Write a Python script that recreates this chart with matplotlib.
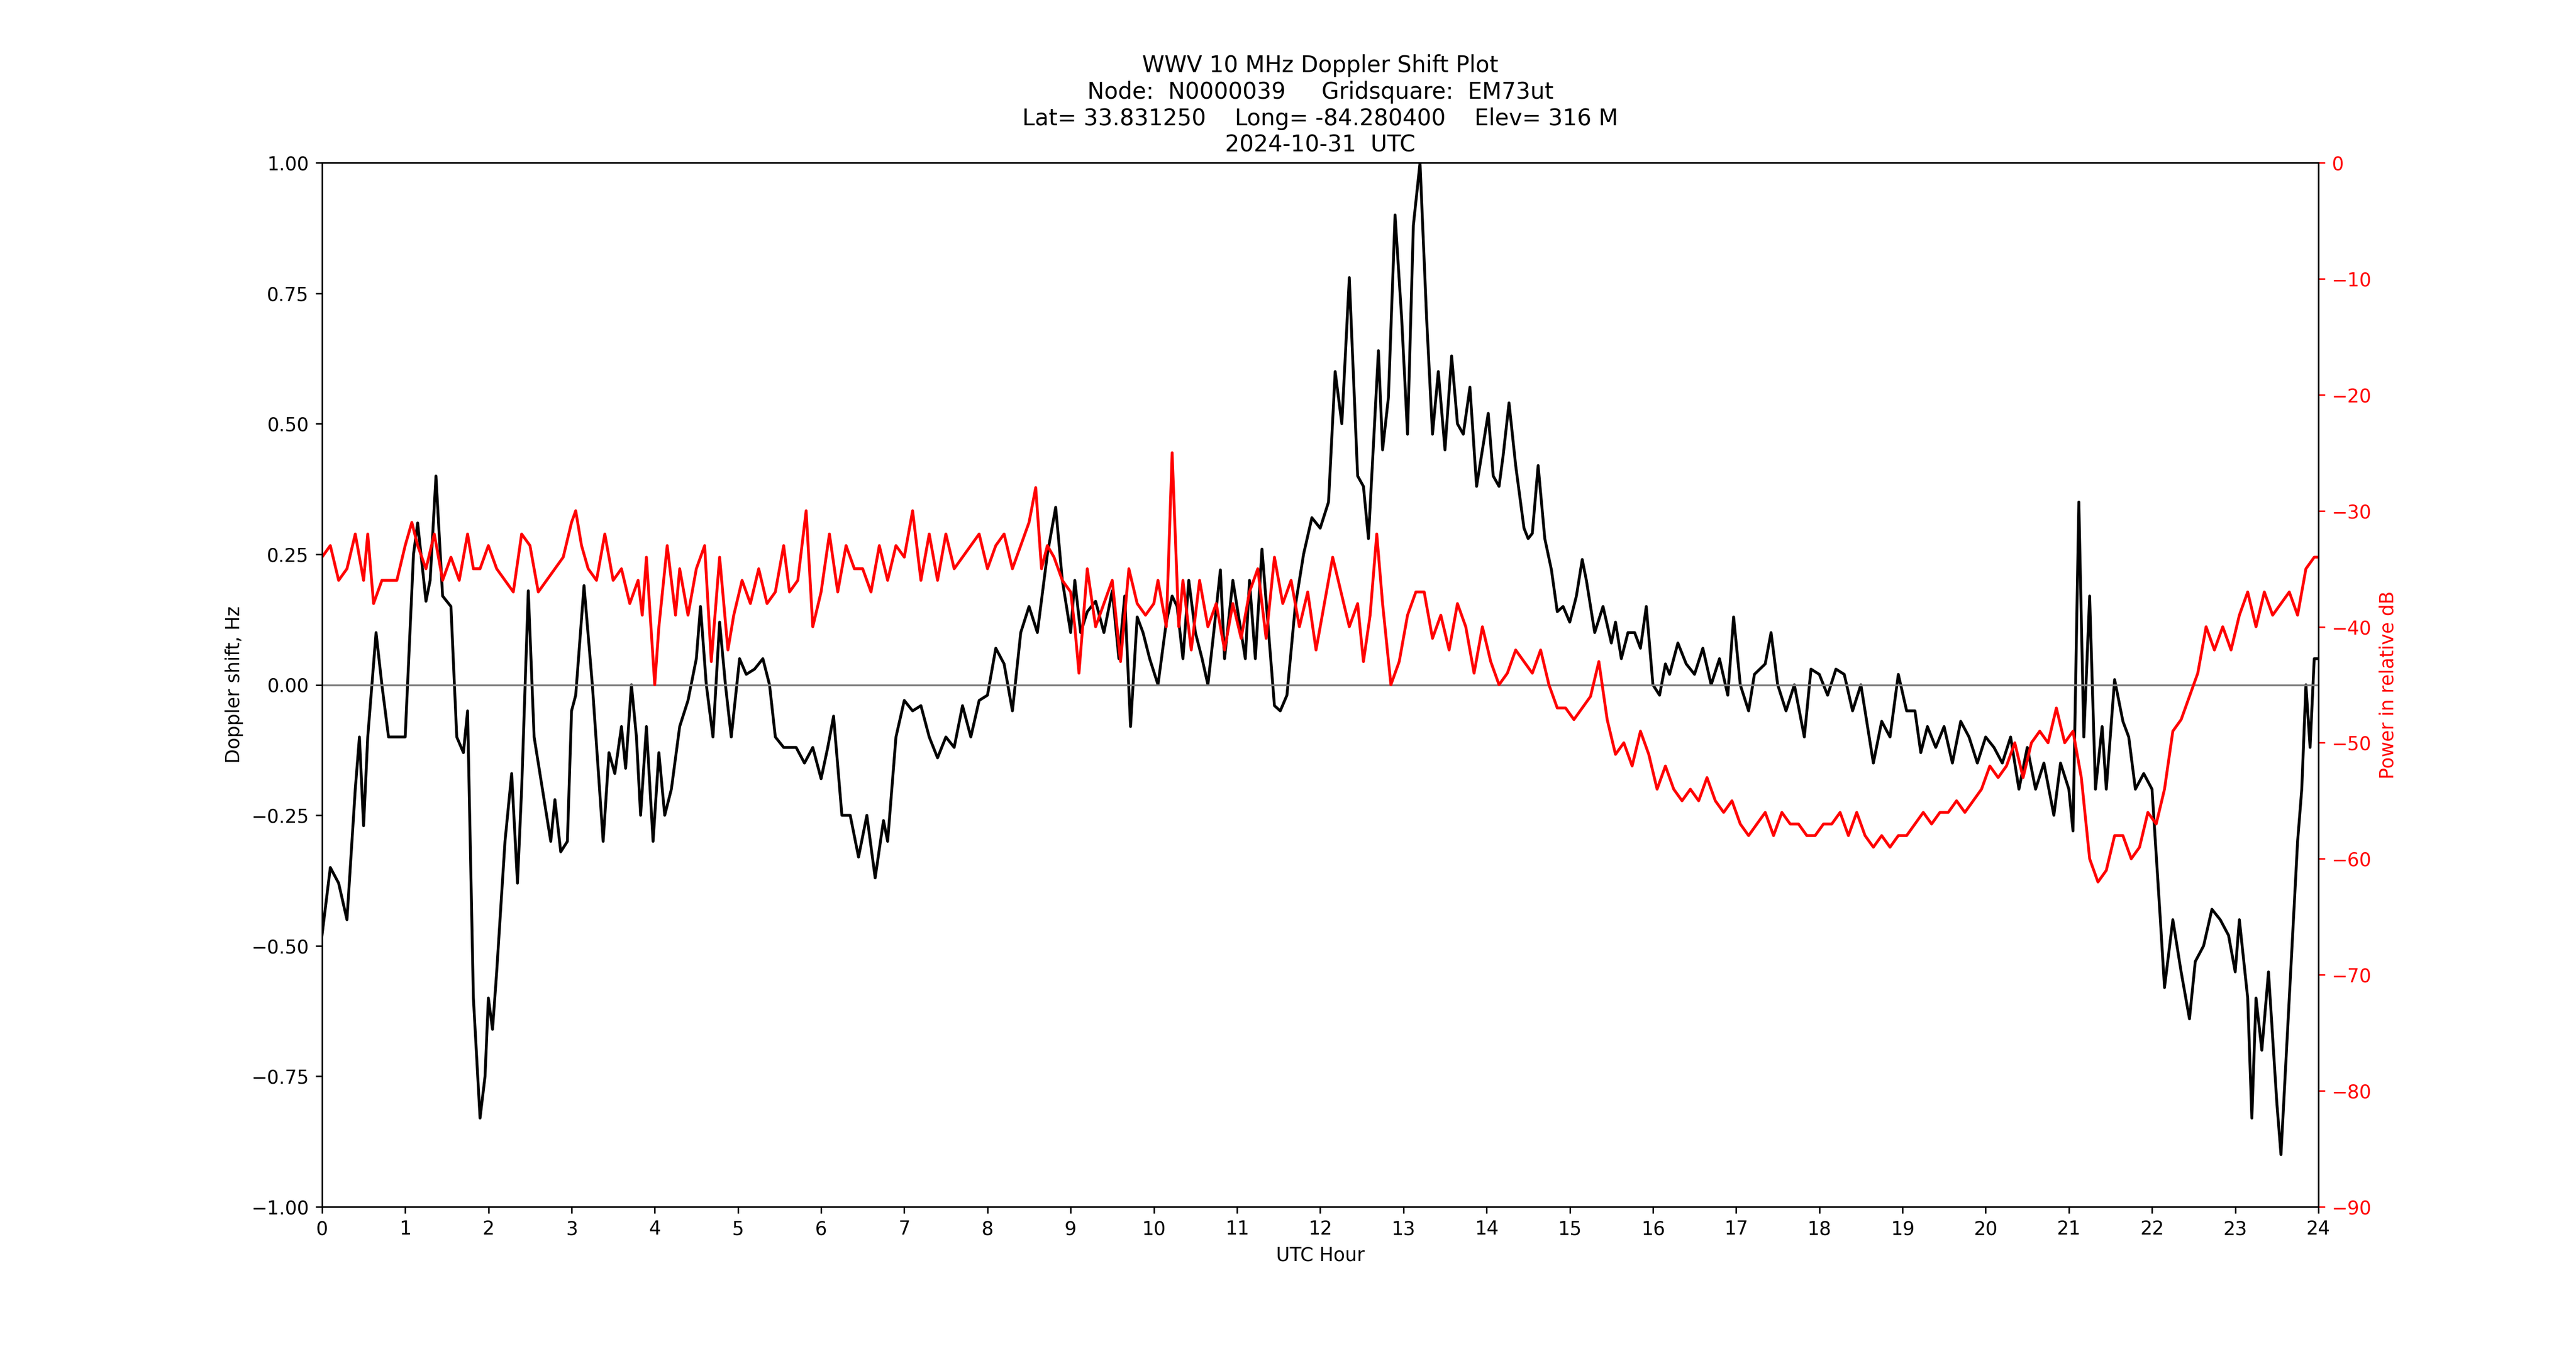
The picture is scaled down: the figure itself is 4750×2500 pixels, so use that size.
import matplotlib
matplotlib.use("Agg")
import matplotlib.pyplot as plt

dop_t = [0.0,0.1,0.2,0.3,0.4,0.45,0.5,0.55,0.65,0.72,0.8,0.9,1.0,1.1,1.15,1.25,1.3,1.37,1.45,1.55,1.62,1.7,1.75,1.82,1.9,1.96,2.0,2.05,2.1,2.2,2.28,2.35,2.4,2.48,2.55,2.65,2.75,2.8,2.87,2.95,3.0,3.05,3.15,3.25,3.38,3.45,3.52,3.6,3.65,3.72,3.78,3.83,3.9,3.98,4.05,4.12,4.2,4.3,4.4,4.5,4.55,4.62,4.7,4.78,4.85,4.92,5.02,5.1,5.2,5.3,5.38,5.45,5.55,5.7,5.8,5.9,6.0,6.08,6.15,6.25,6.35,6.45,6.55,6.65,6.75,6.8,6.9,7.0,7.1,7.2,7.3,7.4,7.5,7.6,7.7,7.8,7.9,8.0,8.1,8.2,8.3,8.4,8.5,8.6,8.72,8.82,8.9,9.0,9.05,9.12,9.2,9.3,9.4,9.5,9.58,9.65,9.72,9.8,9.87,9.95,10.05,10.15,10.22,10.28,10.35,10.42,10.5,10.58,10.65,10.72,10.8,10.85,10.95,11.0,11.1,11.15,11.22,11.3,11.38,11.45,11.52,11.6,11.7,11.8,11.9,12.0,12.1,12.18,12.26,12.35,12.45,12.52,12.58,12.7,12.75,12.82,12.9,12.98,13.05,13.12,13.2,13.28,13.35,13.42,13.5,13.58,13.65,13.72,13.8,13.88,13.95,14.02,14.08,14.15,14.2,14.27,14.35,14.45,14.5,14.55,14.62,14.7,14.78,14.85,14.92,15.0,15.08,15.15,15.2,15.3,15.4,15.5,15.55,15.62,15.7,15.78,15.85,15.92,16.0,16.08,16.15,16.2,16.3,16.4,16.5,16.6,16.7,16.8,16.9,16.97,17.05,17.15,17.22,17.35,17.42,17.5,17.6,17.7,17.82,17.9,18.0,18.1,18.2,18.3,18.4,18.5,18.6,18.65,18.75,18.85,18.95,19.05,19.15,19.22,19.3,19.4,19.5,19.6,19.7,19.8,19.9,20.0,20.1,20.2,20.3,20.4,20.5,20.6,20.7,20.82,20.9,21.0,21.05,21.12,21.18,21.25,21.32,21.4,21.45,21.55,21.65,21.72,21.8,21.9,22.0,22.1,22.15,22.25,22.35,22.45,22.52,22.62,22.72,22.82,22.92,23.0,23.05,23.15,23.2,23.25,23.32,23.4,23.5,23.55,23.65,23.75,23.8,23.85,23.9,23.95,24.0]
dop_v = [-0.48,-0.35,-0.38,-0.45,-0.2,-0.1,-0.27,-0.1,0.1,0.0,-0.1,-0.1,-0.1,0.25,0.31,0.16,0.2,0.40,0.17,0.15,-0.1,-0.13,-0.05,-0.6,-0.83,-0.75,-0.6,-0.66,-0.55,-0.3,-0.17,-0.38,-0.2,0.18,-0.1,-0.2,-0.3,-0.22,-0.32,-0.3,-0.05,-0.02,0.19,0.0,-0.3,-0.13,-0.17,-0.08,-0.16,0.0,-0.1,-0.25,-0.08,-0.3,-0.13,-0.25,-0.2,-0.08,-0.03,0.05,0.15,0.0,-0.1,0.12,0.0,-0.1,0.05,0.02,0.03,0.05,0.0,-0.1,-0.12,-0.12,-0.15,-0.12,-0.18,-0.12,-0.06,-0.25,-0.25,-0.33,-0.25,-0.37,-0.26,-0.3,-0.1,-0.03,-0.05,-0.04,-0.1,-0.14,-0.1,-0.12,-0.04,-0.1,-0.03,-0.02,0.07,0.04,-0.05,0.1,0.15,0.1,0.25,0.34,0.2,0.1,0.2,0.1,0.14,0.16,0.1,0.18,0.05,0.17,-0.08,0.13,0.1,0.05,0.0,0.12,0.17,0.15,0.05,0.2,0.1,0.05,0.0,0.1,0.22,0.05,0.2,0.15,0.05,0.2,0.05,0.26,0.1,-0.04,-0.05,-0.02,0.15,0.25,0.32,0.3,0.35,0.6,0.5,0.78,0.4,0.38,0.28,0.64,0.45,0.55,0.9,0.7,0.48,0.88,1.0,0.7,0.48,0.6,0.45,0.63,0.5,0.48,0.57,0.38,0.45,0.52,0.4,0.38,0.44,0.54,0.42,0.3,0.28,0.29,0.42,0.28,0.22,0.14,0.15,0.12,0.17,0.24,0.2,0.1,0.15,0.08,0.12,0.05,0.1,0.1,0.07,0.15,0.0,-0.02,0.04,0.02,0.08,0.04,0.02,0.07,0.0,0.05,-0.02,0.13,0.0,-0.05,0.02,0.04,0.1,0.0,-0.05,0.0,-0.1,0.03,0.02,-0.02,0.03,0.02,-0.05,0.0,-0.1,-0.15,-0.07,-0.1,0.02,-0.05,-0.05,-0.13,-0.08,-0.12,-0.08,-0.15,-0.07,-0.1,-0.15,-0.1,-0.12,-0.15,-0.1,-0.2,-0.12,-0.2,-0.15,-0.25,-0.15,-0.2,-0.28,0.35,-0.1,0.17,-0.2,-0.08,-0.2,0.01,-0.07,-0.1,-0.2,-0.17,-0.2,-0.45,-0.58,-0.45,-0.55,-0.64,-0.53,-0.5,-0.43,-0.45,-0.48,-0.55,-0.45,-0.6,-0.83,-0.6,-0.7,-0.55,-0.8,-0.9,-0.6,-0.3,-0.2,0.0,-0.12,0.05,0.05]

pwr_t = [0.0,0.1,0.2,0.3,0.4,0.5,0.55,0.62,0.72,0.8,0.9,1.0,1.08,1.15,1.25,1.35,1.45,1.55,1.65,1.75,1.82,1.9,2.0,2.1,2.2,2.3,2.4,2.5,2.6,2.7,2.8,2.9,3.0,3.05,3.12,3.2,3.3,3.4,3.5,3.6,3.7,3.8,3.85,3.9,4.0,4.05,4.15,4.25,4.3,4.4,4.5,4.6,4.68,4.78,4.88,4.95,5.05,5.15,5.25,5.35,5.45,5.55,5.62,5.72,5.82,5.9,6.0,6.1,6.2,6.3,6.4,6.5,6.6,6.7,6.8,6.9,7.0,7.1,7.2,7.3,7.4,7.5,7.6,7.7,7.8,7.9,8.0,8.1,8.2,8.3,8.4,8.5,8.58,8.65,8.72,8.8,8.9,9.0,9.05,9.1,9.2,9.3,9.4,9.5,9.6,9.7,9.8,9.9,10.0,10.05,10.15,10.22,10.3,10.35,10.45,10.55,10.65,10.75,10.85,10.95,11.05,11.15,11.25,11.35,11.45,11.55,11.65,11.75,11.85,11.95,12.05,12.15,12.25,12.35,12.45,12.52,12.6,12.68,12.75,12.85,12.95,13.05,13.15,13.25,13.35,13.45,13.55,13.65,13.75,13.85,13.95,14.05,14.15,14.25,14.35,14.45,14.55,14.65,14.75,14.85,14.95,15.05,15.15,15.25,15.35,15.45,15.55,15.65,15.75,15.85,15.95,16.05,16.15,16.25,16.35,16.45,16.55,16.65,16.75,16.85,16.95,17.05,17.15,17.25,17.35,17.45,17.55,17.65,17.75,17.85,17.95,18.05,18.15,18.25,18.35,18.45,18.55,18.65,18.75,18.85,18.95,19.05,19.15,19.25,19.35,19.45,19.55,19.65,19.75,19.85,19.95,20.05,20.15,20.25,20.35,20.45,20.55,20.65,20.75,20.85,20.95,21.05,21.15,21.25,21.35,21.45,21.55,21.65,21.75,21.85,21.95,22.05,22.15,22.25,22.35,22.45,22.55,22.65,22.75,22.85,22.95,23.05,23.15,23.25,23.35,23.45,23.55,23.65,23.75,23.85,23.95,24.0]
pwr_v = [-34,-33,-36,-35,-32,-36,-32,-38,-36,-36,-36,-33,-31,-33,-35,-32,-36,-34,-36,-32,-35,-35,-33,-35,-36,-37,-32,-33,-37,-36,-35,-34,-31,-30,-33,-35,-36,-32,-36,-35,-38,-36,-39,-34,-45,-40,-33,-39,-35,-39,-35,-33,-43,-34,-42,-39,-36,-38,-35,-38,-37,-33,-37,-36,-30,-40,-37,-32,-37,-33,-35,-35,-37,-33,-36,-33,-34,-30,-36,-32,-36,-32,-35,-34,-33,-32,-35,-33,-32,-35,-33,-31,-28,-35,-33,-34,-36,-37,-40,-44,-35,-40,-38,-36,-43,-35,-38,-39,-38,-36,-40,-25,-40,-36,-42,-36,-40,-38,-42,-38,-41,-37,-35,-41,-34,-38,-36,-40,-37,-42,-38,-34,-37,-40,-38,-43,-39,-32,-38,-45,-43,-39,-37,-37,-41,-39,-42,-38,-40,-44,-40,-43,-45,-44,-42,-43,-44,-42,-45,-47,-47,-48,-47,-46,-43,-48,-51,-50,-52,-49,-51,-54,-52,-54,-55,-54,-55,-53,-55,-56,-55,-57,-58,-57,-56,-58,-56,-57,-57,-58,-58,-57,-57,-56,-58,-56,-58,-59,-58,-59,-58,-58,-57,-56,-57,-56,-56,-55,-56,-55,-54,-52,-53,-52,-50,-53,-50,-49,-50,-47,-50,-49,-53,-60,-62,-61,-58,-58,-60,-59,-56,-57,-54,-49,-48,-46,-44,-40,-42,-40,-42,-39,-37,-40,-37,-39,-38,-37,-39,-35,-34,-34]

fig, ax = plt.subplots(figsize=(19, 10), dpi=250)
fig.subplots_adjust(left=0.125, right=0.9, bottom=0.11, top=0.88)
ax.plot(dop_t, dop_v, color='black', lw=1.5)
ax.axhline(0, color='gray', lw=1)
ax.set_xlim(0, 24)
ax.set_ylim(-1, 1)
ax.set_xticks(range(0, 25))
ax.set_yticks([-1, -0.75, -0.5, -0.25, 0, 0.25, 0.5, 0.75, 1.0])
ax.set_xlabel('UTC Hour')
ax.set_ylabel('Doppler shift, Hz')
ax.set_title('WWV 10 MHz Doppler Shift Plot\nNode:  N0000039     Gridsquare:  EM73ut\n'
             'Lat= 33.831250    Long= -84.280400    Elev= 316 M\n2024-10-31  UTC')
ax2 = ax.twinx()
ax2.plot(pwr_t, pwr_v, color='red', lw=1.5)
ax2.set_ylim(-90, 0)
ax2.set_yticks(range(-90, 1, 10))
ax2.set_ylabel('Power in relative dB', color='red')
ax2.tick_params(axis='y', colors='red')
fig.savefig('out.png')
